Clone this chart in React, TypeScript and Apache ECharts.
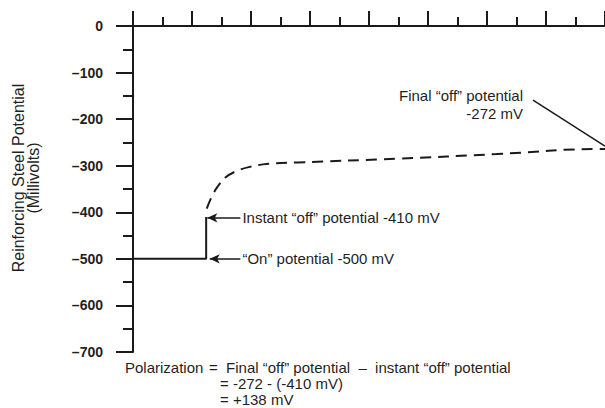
import React, { useEffect, useRef } from "react";
import * as echarts from "echarts";

// Potential (mV) vs time (arbitrary units, no labels)
const yTickValues = [0, -100, -200, -300, -400, -500, -600, -700];
const yTickLabels = ["0", "–100", "–200", "–300", "–400", "–500", "–600", "–700"];

// "On" potential then instant off (solid)
const onX = [0, 1.24, 1.24];
const onY = [-500, -500, -410];

// Depolarization curve (dashed)
const decayX = [1.25, 1.34, 1.44, 1.56, 1.71, 1.96, 2.3, 2.8, 4.48, 6.16, 7.92, 8.0];
const decayY = [-392, -365, -344, -326, -314, -303, -296, -293, -285, -275, -264, -264];

const onPotential = -500;
const instantOff = -412;
const finalOffPointerX = [6.78, 8.0];
const finalOffPointerY = [-159, -258];

const FONT = "Liberation Sans, Arial, Helvetica, sans-serif";
const INK = "#1a1a1a";
const TXT = "#1f1f1f";

export default function App() {
  const ref = useRef<HTMLDivElement>(null);
  useEffect(() => {
    if (!ref.current) return;
    const chart = echarts.init(ref.current, undefined, { renderer: "svg" });
    const labelMap: Record<string, string> = {};
    yTickValues.forEach((v, i) => (labelMap[String(v)] = yTickLabels[i]));
    const txt = { fontFamily: FONT, fontSize: 15, color: TXT };
    chart.setOption({
      animation: false,
      backgroundColor: "#ffffff",
      grid: { left: 133, top: 26, right: -5, bottom: 56 },
      xAxis: {
        type: "value",
        position: "top",
        min: 0,
        max: 8,
        interval: 1,
        axisLine: { onZero: false, lineStyle: { color: INK, width: 2 } },
        axisTick: { show: true, inside: false, length: 15, lineStyle: { color: INK, width: 2 } },
        minorTick: { show: true, splitNumber: 2, length: 9, lineStyle: { color: INK, width: 2 } },
        axisLabel: { show: false },
        splitLine: { show: false },
      },
      yAxis: {
        type: "value",
        min: -700,
        max: 0,
        interval: 100,
        axisLine: { onZero: false, lineStyle: { color: INK, width: 2 } },
        axisTick: { show: true, inside: false, length: 17, lineStyle: { color: INK, width: 2 } },
        minorTick: { show: true, splitNumber: 2, length: 10, lineStyle: { color: INK, width: 2 } },
        axisLabel: {
          margin: 30,
          fontFamily: FONT,
          fontSize: 14,
          fontWeight: "bold",
          color: TXT,
          formatter: (v: number) => labelMap[String(v)] ?? String(v),
        },
        splitLine: { show: false },
      },
      series: [
        {
          type: "line",
          data: onX.map((x, i) => [x, onY[i]]),
          symbol: "none",
          lineStyle: { color: INK, width: 2 },
          markLine: {
            silent: true,
            symbolSize: [7, 10],
            lineStyle: { color: INK, width: 1.5, type: "solid" },
            label: { show: true, position: "end", distance: 2, ...txt },
            data: [
              [
                { coord: [1.26, instantOff], symbol: "arrow", label: { formatter: "Instant \u201Coff\u201D potential -410 mV" } },
                { coord: [1.82, instantOff], symbol: "none" },
              ],
              [
                { coord: [1.3, onPotential], symbol: "arrow", label: { formatter: "\u201COn\u201D potential -500 mV" } },
                { coord: [1.82, onPotential], symbol: "none" },
              ],
              [
                { coord: [finalOffPointerX[0], finalOffPointerY[0]], symbol: "none", label: { show: false } },
                { coord: [finalOffPointerX[1], finalOffPointerY[1]], symbol: "none", label: { show: false } },
              ],
            ],
          },
        },
        {
          type: "line",
          data: decayX.map((x, i) => [x, decayY[i]]),
          symbol: "none",
          smooth: 0.4,
          lineStyle: { color: INK, width: 2, type: [11, 7] },
        },
      ],
      graphic: [
        {
          type: "text",
          x: 25.5,
          y: 178,
          rotation: Math.PI / 2,
          style: { text: "Reinforcing Steel Potential\n(Millivolts)", align: "center", verticalAlign: "middle", font: `16px ${FONT}`, lineHeight: 15, fill: TXT },
        },
        {
          type: "text",
          style: { text: "Final \u201Coff\u201D potential\n-272 mV", x: 523, y: 104, align: "right", verticalAlign: "middle", font: `15px ${FONT}`, lineHeight: 18, fill: TXT },
        },
        { type: "text", style: { text: "Polarization", x: 125, y: 367, verticalAlign: "middle", font: `15px ${FONT}`, fill: TXT } },
        { type: "text", style: { text: "=  Final \u201Coff\u201D potential  \u2013  instant \u201Coff\u201D potential", x: 209, y: 367, verticalAlign: "middle", font: `15px ${FONT}`, fill: TXT } },
        { type: "text", style: { text: "= -272 - (-410 mV)", x: 220, y: 383, verticalAlign: "middle", font: `15px ${FONT}`, fill: TXT } },
        { type: "text", style: { text: "= +138 mV", x: 220, y: 399, verticalAlign: "middle", font: `15px ${FONT}`, fill: TXT } },
      ],
    });
    return () => chart.dispose();
  }, []);
  return <div ref={ref} style={{ position: "fixed", left: 0, top: 0, width: 605, height: 408 }} />;
}
